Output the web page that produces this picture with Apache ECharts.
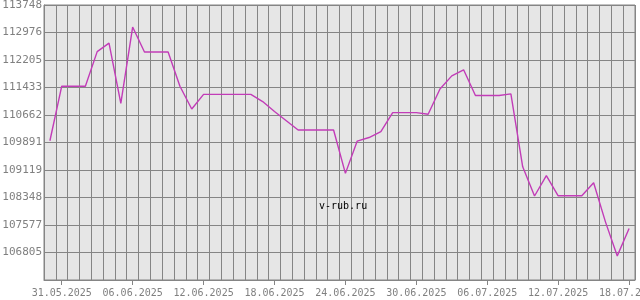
<!DOCTYPE html>
<html><head><meta charset="utf-8">
<script src="https://cdn.jsdelivr.net/npm/echarts@6/dist/echarts.min.js"></script>
<style>html,body{margin:0;padding:0;background:#fff}#c{width:640px;height:300px}</style>
</head><body><div id="c"></div>
<script>
const dates = ['30.05.2025','31.05.2025','01.06.2025','02.06.2025','03.06.2025','04.06.2025','05.06.2025','06.06.2025','07.06.2025','08.06.2025','09.06.2025','10.06.2025','11.06.2025','12.06.2025','13.06.2025','14.06.2025','15.06.2025','16.06.2025','17.06.2025','18.06.2025','19.06.2025','20.06.2025','21.06.2025','22.06.2025','23.06.2025','24.06.2025','25.06.2025','26.06.2025','27.06.2025','28.06.2025','29.06.2025','30.06.2025','01.07.2025','02.07.2025','03.07.2025','04.07.2025','05.07.2025','06.07.2025','07.07.2025','08.07.2025','09.07.2025','10.07.2025','11.07.2025','12.07.2025','13.07.2025','14.07.2025','15.07.2025','16.07.2025','17.07.2025','18.07.2025'];
const rates = [109940,111470,111470,111470,112440,112680,110990,113130,112430,112430,112430,111470,110830,111240,111240,111240,111240,111240,111040,110760,110500,110240,110240,110240,110240,109025,109930,110030,110195,110730,110730,110730,110685,111390,111760,111930,111210,111210,111210,111255,109210,108390,108960,108396,108396,108396,108760,107665,106710,107480];
const yTickLabels = ['','106805','107577','108348','109119','109891','110662','111433','112205','112976','113748'];
const yMin = 106034, yMax = 113748;
const gridC = '#858585', txtC = '#808080';
const chart = echarts.init(document.getElementById('c'), null, {renderer:'canvas'});
chart.setOption({
  animation:false,
  backgroundColor:'#ffffff',
  grid:{left:44,right:5,top:5,bottom:20,containLabel:false,outerBoundsMode:'none',show:true,backgroundColor:'#e6e6e6',borderColor:gridC,borderWidth:1},
  graphic:[{type:'text',left:319,top:201,style:{text:'v-rub.ru',fill:'#000',font:'10px "DejaVu Sans Mono"'},z:100}],
  xAxis:{type:'category',data:dates,boundaryGap:true,
    axisLine:{lineStyle:{color:gridC,width:1}},
    axisTick:{show:true,alignWithLabel:true,length:5,lineStyle:{color:gridC},interval:(i)=> (i-1)%6===0},
    axisLabel:{color:txtC,fontFamily:'DejaVu Sans Mono',fontSize:10,margin:8,interval:(i)=> (i-1)%6===0,showMaxLabel:true,hideOverlap:false},
    splitLine:{show:true,interval:0,lineStyle:{color:gridC,width:1}}},
  yAxis:{type:'value',min:yMin,max:yMax,interval:(yMax-yMin)/10,
    axisLine:{show:true,lineStyle:{color:gridC}},axisTick:{show:false},
    axisLabel:{color:txtC,fontFamily:'DejaVu Sans Mono',fontSize:11,margin:2,formatter:(v,i)=>yTickLabels[i]||''},
    splitLine:{show:true,lineStyle:{color:gridC,width:1}}},
  series:[{type:'line',data:rates,symbol:'none',lineStyle:{color:'#c23cb8',width:1.4}}]
});
</script></body></html>
